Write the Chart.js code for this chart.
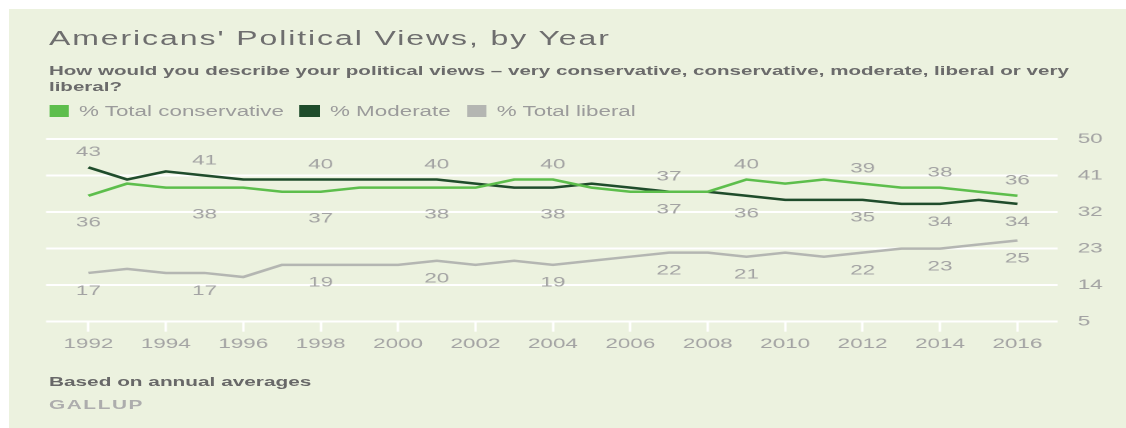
<!DOCTYPE html>
<html>
<head>
<meta charset="utf-8">
<script src="https://cdn.jsdelivr.net/npm/chart.js@4/dist/chart.umd.min.js"></script>
<style>
    html, body { margin: 0; padding: 0; background: #fff; }
    body { width: 1126px; height: 428px; overflow: hidden; position: relative; font-family: "Liberation Sans", Arial, sans-serif; }
    #panel { position: absolute; left: 9px; top: 9px; right: 0; bottom: 0; background: #ecf2df; }
    /* the original picture is stretched sideways, so everything is laid out narrow and scaled */
    #stretch { position: absolute; left: 0; top: 0; width: 703.75px; height: 428px; transform: scaleX(1.6); transform-origin: 0 0; }
    .txt { position: absolute; left: 30.6px; white-space: nowrap; }
    #title { top: 28px; font-size: 20px; line-height: 20px; color: #6e6e6e; letter-spacing: 1.2px; }
    #subtitle { top: 62.5px; font-size: 12.85px; line-height: 16px; font-weight: bold; color: #6b6b6b; }
    #legend { top: 104px; font-size: 14px; line-height: 14px; color: #9b9b9b; display: flex; }
    #legend .item { display: flex; align-items: center; margin-right: 10px; }
    #legend .box { width: 12.5px; height: 12px; margin-right: 6.25px; }
    #note { top: 375px; font-size: 13px; line-height: 13px; font-weight: bold; color: #686868; }
    #source { top: 398px; font-size: 13px; line-height: 13px; font-weight: bold; color: #adadad; letter-spacing: 1px; }
    #chartBox { position: absolute; left: 0; top: 118px; width: 703.75px; height: 250px; }
</style>
</head>
<body>
<div id="panel"></div>
<div id="stretch">
    <div class="txt" id="title">Americans' Political Views, by Year</div>
    <div class="txt" id="subtitle">How would you describe your political views – very conservative, conservative, moderate, liberal or very<br>liberal?</div>
    <div class="txt" id="legend"></div>
    <div id="chartBox"><canvas id="viewsChart"></canvas></div>
    <div class="txt" id="note">Based on annual averages</div>
    <div class="txt" id="source">GALLUP</div>
</div>
<script>
const years = [1992, 1993, 1994, 1995, 1996, 1997, 1998, 1999, 2000, 2001, 2002, 2003, 2004,
    2005, 2006, 2007, 2008, 2009, 2010, 2011, 2012, 2013, 2014, 2015, 2016];
const conservative = [36, 39, 38, 38, 38, 37, 37, 38, 38, 38, 38, 40, 40, 38, 37, 37, 37, 40, 39, 40, 39, 38, 38, 37, 36];
const moderate = [43, 40, 42, 41, 40, 40, 40, 40, 40, 40, 39, 38, 38, 39, 38, 37, 37, 36, 35, 35, 35, 34, 34, 35, 34];
const liberal = [17, 18, 17, 17, 16, 19, 19, 19, 19, 20, 19, 20, 19, 20, 21, 22, 22, 21, 22, 21, 22, 23, 23, 24, 25];

const seriesNames = ["% Total conservative", "% Moderate", "% Total liberal"];
const seriesColors = ["#5dbe4c", "#1f4c2b", "#b4b6b2"];

const labelYears = [1992, 1995, 1998, 2001, 2004, 2007, 2009, 2012, 2014, 2016];
const xTicks = [1992, 1994, 1996, 1998, 2000, 2002, 2004, 2006, 2008, 2010, 2012, 2014, 2016];
const yTicks = [5, 14, 23, 32, 41, 50];

const labelFont = '14px "Liberation Sans", Arial, sans-serif';
const labelColor = "#a3a3a3";

// html legend
const legendEl = document.getElementById("legend");
seriesNames.forEach((name, i) => {
    const item = document.createElement("div");
    item.className = "item";
    item.innerHTML = `<span class="box" style="background:${seriesColors[i]}"></span><span>${name}</span>`;
    legendEl.appendChild(item);
});

function points(values) {
    return years.map((yr, i) => ({ x: yr, y: values[i] }));
}

// numbers written on the lines
const valueLabels = {
    id: "valueLabels",
    afterDatasetsDraw(chart) {
        const { ctx } = chart;
        const x = chart.scales.x;
        const y = chart.scales.y;
        ctx.save();
        ctx.font = labelFont;
        ctx.fillStyle = labelColor;
        ctx.textAlign = "center";
        ctx.textBaseline = "middle";
        labelYears.forEach((yr) => {
            const i = years.indexOf(yr);
            const px = x.getPixelForValue(yr);
            const c = conservative[i];
            const m = moderate[i];
            const consTop = c > m;
            const below = yr < 2005 ? 27 : 18;
            ctx.fillText(c, px, y.getPixelForValue(c) + (consTop ? -15 : below));
            ctx.fillText(m, px, y.getPixelForValue(m) + (consTop ? below : -15));
            ctx.fillText(liberal[i], px, y.getPixelForValue(liberal[i]) + 18);
        });
        ctx.restore();
    }
};

const viewsChartConfig = {
    type: "line",
    data: {
        datasets: [
            { label: seriesNames[0], data: points(conservative), borderColor: seriesColors[0] },
            { label: seriesNames[1], data: points(moderate), borderColor: seriesColors[1] },
            { label: seriesNames[2], data: points(liberal), borderColor: seriesColors[2] }
        ]
    },
    options: {
        responsive: true,
        maintainAspectRatio: false,
        animation: false,
        devicePixelRatio: 2,
        layout: { padding: { left: 28.75, top: 12.5, right: 0, bottom: 0 } },
        elements: {
            line: { borderWidth: 2.5, tension: 0 },
            point: { radius: 0, hoverRadius: 0 }
        },
        plugins: {
            legend: { display: false },
            tooltip: { enabled: false }
        },
        scales: {
            x: {
                type: "linear",
                min: 1990.906,
                max: 2017.043,
                afterBuildTicks: (s) => { s.ticks = xTicks.map((v) => ({ value: v })); },
                afterFit: (s) => { s.height = 46.3; },
                ticks: {
                    color: labelColor,
                    font: { family: '"Liberation Sans", Arial, sans-serif', size: 14 },
                    padding: 4,
                    maxRotation: 0,
                    callback: (v) => String(v)
                },
                grid: { drawOnChartArea: false, drawTicks: true, tickLength: 10, tickColor: "#ffffff", tickWidth: 1.5 },
                border: { display: false }
            },
            y: {
                position: "right",
                min: 5,
                max: 50,
                afterBuildTicks: (s) => { s.ticks = yTicks.map((v) => ({ value: v })); },
                afterFit: (s) => { s.width = 43.15; },
                ticks: {
                    color: labelColor,
                    font: { family: '"Liberation Sans", Arial, sans-serif', size: 14 },
                    padding: 12.5
                },
                grid: { color: "#ffffff", lineWidth: 2, drawTicks: false },
                border: { display: false }
            }
        }
    },
    plugins: [valueLabels]
};

const viewsChart = new Chart(document.getElementById("viewsChart"), viewsChartConfig);
</script>
</body>
</html>
